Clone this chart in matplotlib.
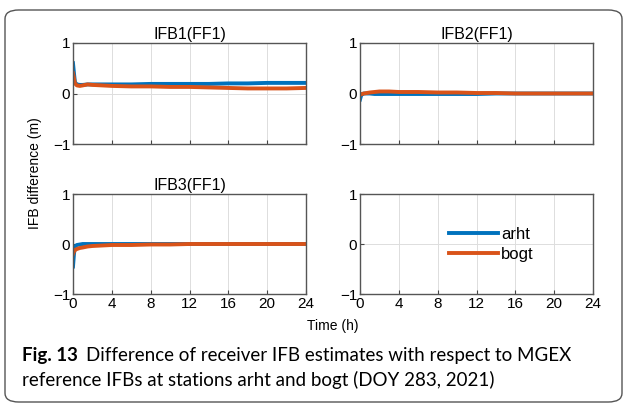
"""Receiver IFB difference vs MGEX reference (Fig. 13 recreation)."""

import matplotlib
matplotlib.use("Agg")
import matplotlib.pyplot as plt
from matplotlib.patches import FancyBboxPatch

# ── data ──────────────────────────────────────────────────────────────────────
t = [0, 0.1, 0.2, 0.4, 0.7, 1.0, 1.5, 2, 3, 4, 6, 8, 10, 12, 14, 16, 18, 20, 22, 24]

ifb1_arht = [0.60, 0.40, 0.22, 0.18, 0.17, 0.17, 0.18, 0.18, 0.18, 0.18, 0.18,
             0.19, 0.19, 0.19, 0.19, 0.20, 0.20, 0.21, 0.21, 0.21]
ifb1_bogt = [0.40, 0.30, 0.20, 0.16, 0.15, 0.16, 0.18, 0.17, 0.16, 0.15, 0.14,
             0.14, 0.13, 0.13, 0.12, 0.11, 0.10, 0.10, 0.10, 0.11]

ifb2_arht = [-0.12, -0.05, -0.01, 0.00, 0.00, 0.00, -0.01, -0.01, -0.01, -0.01, -0.01,
             -0.01, -0.01, -0.01, 0.00, 0.00, 0.00, 0.00, 0.00, 0.00]
ifb2_bogt = [-0.02, -0.02, -0.01, 0.00, 0.01, 0.02, 0.03, 0.04, 0.04, 0.03, 0.03,
             0.02, 0.02, 0.01, 0.01, 0.00, 0.00, 0.00, 0.00, 0.00]

ifb3_arht = [-0.45, -0.20, -0.05, -0.02, -0.01, 0.00, 0.00, 0.00, 0.00, 0.00, 0.00,
             0.00, 0.00, 0.00, 0.00, 0.00, 0.00, 0.00, 0.00, 0.00]
ifb3_bogt = [-0.20, -0.15, -0.12, -0.10, -0.08, -0.07, -0.05, -0.04, -0.03, -0.02, -0.02,
             -0.01, -0.01, 0.00, 0.00, 0.00, 0.00, 0.00, 0.00, 0.00]

titles = ["IFB1(FF1)", "IFB2(FF1)", "IFB3(FF1)", ""]
series = [(ifb1_arht, ifb1_bogt), (ifb2_arht, ifb2_bogt), (ifb3_arht, ifb3_bogt), None]
xticks = [0, 4, 8, 12, 16, 20, 24]
yticks = [-1, 0, 1]
stations = ["arht", "bogt"]

caption_head = "Fig. 13"
caption_1 = "Difference of receiver IFB estimates with respect to MGEX"
caption_2 = "reference IFBs at stations arht and bogt (DOY 283, 2021)"

BLUE = "#0072BD"
ORANGE = "#D95319"

plt.rcParams["font.family"] = ["Liberation Sans", "DejaVu Sans"]

W, H = 624, 404
fig = plt.figure(figsize=(W / 100, H / 100), dpi=100)

# rounded frame around the figure + caption
frame = FancyBboxPatch((5 / W, 2 / H), 617 / W, 392 / H,
                       boxstyle="round,pad=0,rounding_size=0.022",
                       transform=fig.transFigure, fill=False,
                       edgecolor="#555555", linewidth=1.0)
fig.patches.append(frame)

# axes boxes in pixels: (left, top, right, bottom)
boxes = [(73, 43, 306, 144), (360, 43, 593, 144),
         (73, 194, 306, 294), (360, 194, 593, 294)]

for i, (l, tp, r, b) in enumerate(boxes):
    ax = fig.add_axes([l / W, 1 - b / H, (r - l) / W, (b - tp) / H])
    if series[i] is not None:
        ax.plot(t, series[i][0], color=BLUE, lw=2.8, label=stations[0])
        ax.plot(t, series[i][1], color=ORANGE, lw=2.8, label=stations[1])
    else:
        ax.plot([], [], color=BLUE, lw=2.8, label=stations[0])
        ax.plot([], [], color=ORANGE, lw=2.8, label=stations[1])
        ax.legend(loc="center", frameon=False, fontsize=12, handlelength=2.9,
                  handletextpad=0.2, labelspacing=0.3,
                  bbox_to_anchor=(0.565, 0.5))
    ax.set_xlim(0, 24)
    ax.set_ylim(-1, 1)
    ax.set_xticks(xticks)
    ax.set_yticks(yticks)
    ax.set_yticklabels(["\u22121", "0", "1"])
    if i < 2:
        ax.set_xticklabels([])
    ax.grid(True, color="#dddddd", linewidth=0.7)
    ax.set_axisbelow(True)
    ax.tick_params(direction="in", length=3, labelsize=11, color="#444444",
                   pad=2, top=False, right=False)
    for sp in ax.spines.values():
        sp.set_color("#555555")
        sp.set_linewidth(1.0)
    if titles[i]:
        ax.set_title(titles[i], fontsize=11.5, pad=3)

fig.text(333 / W, 1 - 326 / H, "Time (h)", ha="center", va="center", fontsize=10)
fig.text(35 / W, 1 - 173 / H, "IFB difference (m)", ha="center", va="center",
         rotation=90, fontsize=10)

# caption: fit font size so the second line spans the same width as the original
cap = ["Lato", "Liberation Sans", "DejaVu Sans"]
x0, y1, y2 = 22, 361, 386
r = fig.canvas.get_renderer()
probe = fig.text(0, 0, caption_2, fontsize=12, family=cap)
w12 = probe.get_window_extent(r).width
probe.remove()
fs = 12 * (492 - x0) / w12

head = fig.text(x0 / W, 1 - y1 / H, caption_head, ha="left", va="baseline",
                fontsize=fs, fontweight="bold", family=cap)
hw = head.get_window_extent(r).width
fig.text((x0 + hw + 8) / W, 1 - y1 / H, caption_1, ha="left", va="baseline",
         fontsize=fs, family=cap)
fig.text(x0 / W, 1 - y2 / H, caption_2, ha="left", va="baseline",
         fontsize=fs, family=cap)

fig.savefig("out.png", dpi=100)
